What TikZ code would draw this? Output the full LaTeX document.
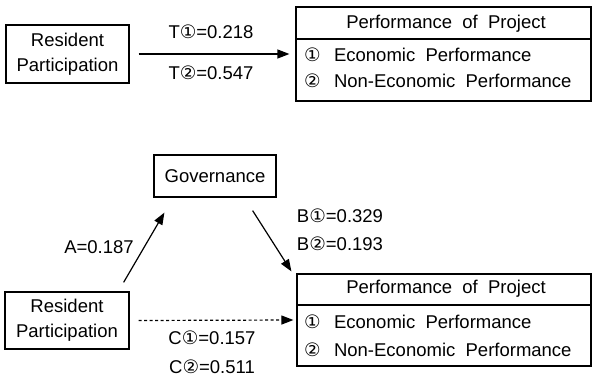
\documentclass[tikz,border=0pt]{standalone}
\usepackage{fontspec}
\setmainfont[WordSpace=2]{Liberation Sans}
\newfontfamily\circfont{DejaVu Sans}
\newcommand{\cone}{{\circfont ①}}
\newcommand{\ctwo}{{\circfont ②}}
\usetikzlibrary{arrows.meta}
\begin{document}
\begin{tikzpicture}[x=1pt,y=-1pt,
  font=\fontsize{18.5}{25}\selectfont,
  box/.style={draw, line width=1.2pt, inner sep=0pt, align=center},
  arr/.style={line width=1.2pt, -{Triangle[length=12pt,width=9pt]}},
  lbl/.style={inner sep=0pt, anchor=center},
  item/.style={inner sep=0pt, anchor=west}]
\useasboundingbox (0,0) rectangle (592,377);

% top diagram
\node[box, minimum width=123pt, minimum height=58pt] (rp1) at (67.5,54) {Resident\\Participation};
\node[box, minimum width=295pt, minimum height=94pt] (perf1) at (443.5,54) {};
\draw[line width=1.2pt] (perf1.west |- 0,39) -- (perf1.east |- 0,39);
\node[lbl] (h1) at (446,24) {Performance of Project};
\node[item] (e1) at (304,55) {\cone\hspace{3pt} Economic Performance};
\node[item] (n1) at (304,81) {\ctwo\hspace{3pt} Non-Economic Performance};
\draw[arr] ([xshift=9pt]rp1.east) -- ([xshift=-6pt]perf1.west);
\node[lbl] (t1) at (211,32) {T\cone=0.218};
\node[lbl] (t2) at (211,73) {T\ctwo=0.547};

% bottom diagram
\node[box, minimum width=122pt, minimum height=42pt] (gov) at (215,176) {Governance};
\node[box, minimum width=124pt, minimum height=57pt] (rp2) at (67,320.5) {Resident\\Participation};
\node[box, minimum width=294pt, minimum height=92pt] (perf2) at (444,320) {};
\draw[line width=1.2pt] (perf2.west |- 0,305) -- (perf2.east |- 0,305);
\node[lbl] (h2) at (446,289) {Performance of Project};
\node[item] (e2) at (304,322) {\cone\hspace{3pt} Economic Performance};
\node[item] (n2) at (304,350) {\ctwo\hspace{3pt} Non-Economic Performance};

\draw[arr] ([shift={(-6,-9)}]rp2.north east) -- ([shift={(11,15)}]gov.south west);
\draw[arr] ([shift={(-24,13)}]gov.south east) -- ([shift={(-5,-2)}]perf2.north west);
\draw[arr, dash pattern=on 3pt off 2.5pt] ([xshift=9pt]rp2.east) -- ([xshift=-3pt]perf2.west);

\node[lbl] (a) at (99,247) {A=0.187};
\node[lbl] (b1) at (340,216) {B\cone=0.329};
\node[lbl] (b2) at (340,244) {B\ctwo=0.193};
\node[lbl] (c1) at (212,338) {C\cone=0.157};
\node[lbl] (c2) at (212,367) {C\ctwo=0.511};
\end{tikzpicture}
\end{document}
